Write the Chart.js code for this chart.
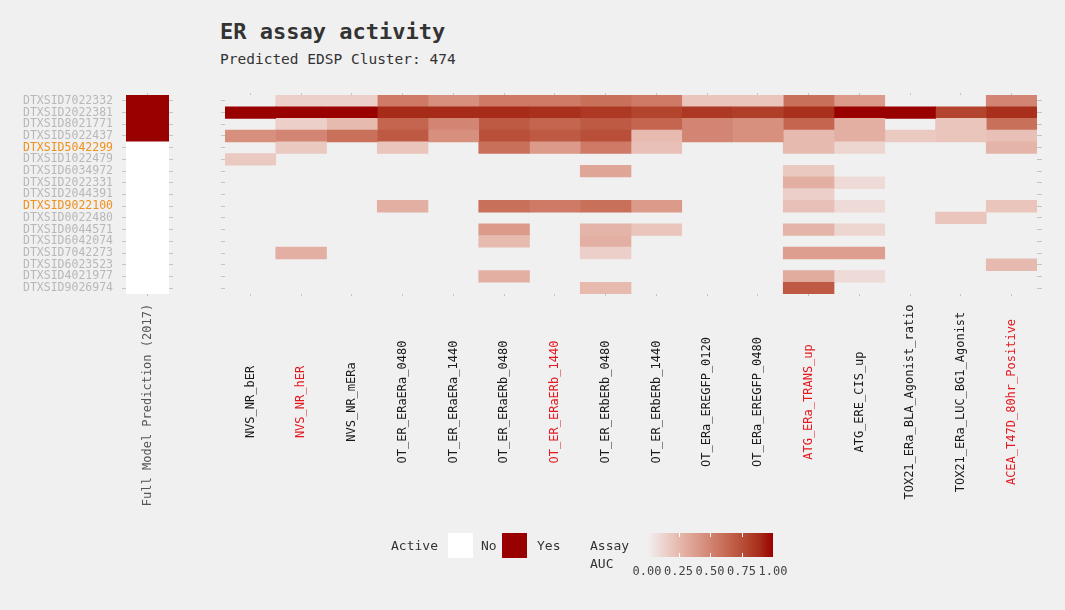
<!DOCTYPE html>
<html>
<head>
<meta charset="utf-8">
<script src="https://cdn.jsdelivr.net/npm/chart.js@4.4.1/dist/chart.umd.min.js"></script>
<style>
  body { margin: 0; background: #f0f0f0; width: 1065px; height: 610px; overflow: hidden; position: relative;
         font-family: 'DejaVu Sans Mono', 'Liberation Mono', monospace; color: #333; }
  .box { position: absolute; }
  #title { position: absolute; left: 220px; top: 20px; font-size: 22px; font-weight: bold; line-height: 24px; color: #333; }
  #subtitle { position: absolute; left: 220px; top: 51px; font-size: 14.5px; line-height: 16px; color: #333; }
  .leg { position: absolute; font-size: 13px; line-height: 16px; color: #333; }
  .swatch { position: absolute; width: 25px; height: 25px; top: 533px; }
  .cbtick { position: absolute; width: 1px; height: 4px; background: #fff; }
  .cblab { position: absolute; top: 564px; font-size: 12px; line-height: 14px; color: #444; width: 40px; text-align: center; }
</style>
</head>
<body>
<div id="title">ER assay activity</div>
<div id="subtitle">Predicted EDSP Cluster: 474</div>

<div class="box" style="left:0;top:0;width:200px;height:610px"><canvas id="predChart"></canvas></div>
<div class="box" style="left:200px;top:0;width:865px;height:610px"><canvas id="assayChart"></canvas></div>

<div class="leg" style="left:391px;top:538px">Active</div>
<div class="swatch" style="left:448px;background:#ffffff"></div>
<div class="leg" style="left:481px;top:538px">No</div>
<div class="swatch" style="left:502px;background:#990000"></div>
<div class="leg" style="left:537px;top:538px">Yes</div>
<div class="leg" style="left:590px;top:538px">Assay</div>
<div class="leg" style="left:590px;top:556px">AUC</div>
<div id="colorbar" class="box" style="left:647px;top:533px;width:126px;height:24px"></div>
<div id="cbextra"></div>

<script>
'use strict';

const chemicals = ['DTXSID7022332', 'DTXSID2022381', 'DTXSID8021771', 'DTXSID5022437', 'DTXSID5042299',
  'DTXSID1022479', 'DTXSID6034972', 'DTXSID2022331', 'DTXSID2044391', 'DTXSID9022100', 'DTXSID0022480',
  'DTXSID0044571', 'DTXSID6042074', 'DTXSID7042273', 'DTXSID6023523', 'DTXSID4021977', 'DTXSID9026974'];
const highlighted = ['DTXSID5042299', 'DTXSID9022100'];
const predicted = ['Yes', 'Yes', 'Yes', 'Yes', 'No', 'No', 'No', 'No', 'No', 'No', 'No', 'No', 'No', 'No', 'No', 'No', 'No'];

const assays = ['NVS_NR_bER', 'NVS_NR_hER', 'NVS_NR_mERa', 'OT_ER_ERaERa_0480', 'OT_ER_ERaERa_1440',
  'OT_ER_ERaERb_0480', 'OT_ER_ERaERb_1440', 'OT_ER_ERbERb_0480', 'OT_ER_ERbERb_1440', 'OT_ERa_EREGFP_0120',
  'OT_ERa_EREGFP_0480', 'ATG_ERa_TRANS_up', 'ATG_ERE_CIS_up', 'TOX21_ERa_BLA_Agonist_ratio',
  'TOX21_ERa_LUC_BG1_Agonist', 'ACEA_T47D_80hr_Positive'];
const redAssays = ['NVS_NR_hER', 'OT_ER_ERaERb_1440', 'ATG_ERa_TRANS_up', 'ACEA_T47D_80hr_Positive'];

// assay AUC, one row per chemical (same order as chemicals), null = no hit
const auc = [
  [null, 0.15, 0.15, 0.55, 0.45, 0.55, 0.55, 0.6, 0.55, 0.2, 0.2, 0.6, 0.4, null, null, 0.5],
  [1.0, 1.0, 1.0, 0.9, 0.9, 0.9, 0.88, 0.85, 0.8, 0.85, 0.82, 0.88, 1.0, 1.0, 0.8, 0.88],
  [null, 0.15, 0.25, 0.65, 0.5, 0.7, 0.65, 0.7, 0.65, 0.5, 0.45, 0.65, 0.3, null, 0.2, 0.6],
  [0.45, 0.5, 0.6, 0.7, 0.45, 0.75, 0.7, 0.75, 0.25, 0.5, 0.45, 0.25, 0.3, 0.18, 0.2, 0.22],
  [null, 0.18, null, 0.2, null, 0.6, 0.4, 0.55, 0.22, null, null, 0.25, 0.12, null, null, 0.28],
  [0.18, null, null, null, null, null, null, null, null, null, null, null, null, null, null, null],
  [null, null, null, null, null, null, null, 0.35, null, null, null, 0.18, null, null, null, null],
  [null, null, null, null, null, null, null, null, null, null, null, 0.3, 0.1, null, null, null],
  [null, null, null, null, null, null, null, null, null, null, null, 0.15, null, null, null, null],
  [null, null, null, 0.3, null, 0.6, 0.55, 0.6, 0.4, null, null, 0.22, 0.1, null, null, 0.2],
  [null, null, null, null, null, null, null, null, null, null, null, null, null, null, 0.2, null],
  [null, null, null, null, null, 0.4, null, 0.28, 0.2, null, null, 0.28, 0.12, null, null, null],
  [null, null, null, null, null, 0.25, null, 0.3, null, null, null, null, null, null, null, null],
  [null, 0.3, null, null, null, null, null, 0.15, null, null, null, 0.38, 0.38, null, null, null],
  [null, null, null, null, null, null, null, null, null, null, null, null, null, null, null, 0.25],
  [null, null, null, null, null, 0.3, null, null, null, null, null, 0.32, 0.1, null, null, null],
  [null, null, null, null, null, null, null, 0.25, null, null, null, 0.7, null, null, null, null]
];

const colorbarTicks = [0, 0.25, 0.5, 0.75, 1];

const lowColor = '#f2f0f0';
const highColor = '#990000';
const tickGray = '#c4c4c4';

// gradient in Lab space, like ggplot's scale_fill_gradient
function toLin(c) { c /= 255; return c <= 0.04045 ? c / 12.92 : Math.pow((c + 0.055) / 1.055, 2.4); }
function toSrgb(c) {
  const v = c <= 0.0031308 ? 12.92 * c : 1.055 * Math.pow(c, 1 / 2.4) - 0.055;
  return Math.round(Math.max(0, Math.min(1, v)) * 255);
}
function hexToLab(hex) {
  const r = toLin(parseInt(hex.slice(1, 3), 16));
  const g = toLin(parseInt(hex.slice(3, 5), 16));
  const b = toLin(parseInt(hex.slice(5, 7), 16));
  const f = t => t > 0.008856 ? Math.cbrt(t) : 7.787 * t + 16 / 116;
  const fx = f((0.4124 * r + 0.3576 * g + 0.1805 * b) / 0.95047);
  const fy = f(0.2126 * r + 0.7152 * g + 0.0722 * b);
  const fz = f((0.0193 * r + 0.1192 * g + 0.9505 * b) / 1.08883);
  return [116 * fy - 16, 500 * (fx - fy), 200 * (fy - fz)];
}
function labToRgb(L, a, bb) {
  const fy = (L + 16) / 116, fx = fy + a / 500, fz = fy - bb / 200;
  const inv = t => t * t * t > 0.008856 ? t * t * t : (t - 16 / 116) / 7.787;
  const X = inv(fx) * 0.95047, Y = inv(fy), Z = inv(fz) * 1.08883;
  const r = 3.2406 * X - 1.5372 * Y - 0.4986 * Z;
  const g = -0.9689 * X + 1.8758 * Y + 0.0415 * Z;
  const b = 0.0557 * X - 0.2040 * Y + 1.0570 * Z;
  return 'rgb(' + toSrgb(r) + ',' + toSrgb(g) + ',' + toSrgb(b) + ')';
}
const labLow = hexToLab(lowColor);
const labHigh = hexToLab(highColor);
function aucColor(v) {
  return labToRgb(labLow[0] + (labHigh[0] - labLow[0]) * v,
                  labLow[1] + (labHigh[1] - labLow[1]) * v,
                  labLow[2] + (labHigh[2] - labLow[2]) * v);
}

// rotated axis labels, centred on a fixed line like the original
function verticalLabels(labels, colors, centerY, size) {
  return {
    id: 'verticalLabels',
    afterDraw(chart) {
      const ctx = chart.ctx;
      const xs = chart.scales.x;
      ctx.save();
      ctx.font = size + 'px "DejaVu Sans Mono", monospace';
      ctx.textAlign = 'center';
      ctx.textBaseline = 'middle';
      labels.forEach((lab, i) => {
        ctx.save();
        ctx.translate(xs.getPixelForValue(i + 0.5), centerY);
        ctx.rotate(-Math.PI / 2);
        ctx.fillStyle = colors[i];
        ctx.fillText(lab, 0, 0);
        ctx.restore();
      });
      ctx.restore();
    }
  };
}

function tickAxis(position, type, size) {
  const axis = {
    type: type,
    position: position,
    grid: { drawOnChartArea: false, tickLength: size, color: tickGray, offset: false },
    ticks: { display: false },
    border: { display: false }
  };
  if (position === 'left' || position === 'right') {
    axis.labels = chemicals;
    axis.offset = true;
    axis.afterFit = s => { s.width = size; };
  } else {
    axis.afterFit = s => { s.height = 3; };
  }
  return axis;
}

// left panel: full model prediction
const predAxisX = tickAxis('bottom', 'linear', 2);
predAxisX.min = 0; predAxisX.max = 1;
predAxisX.afterBuildTicks = s => { s.ticks = [{ value: 0.5 }]; };
const predAxisX2 = tickAxis('top', 'linear', 2);
predAxisX2.min = 0; predAxisX2.max = 1;
predAxisX2.afterBuildTicks = s => { s.ticks = [{ value: 0.5 }]; };
const predAxisY = tickAxis('left', 'category', 4);
predAxisY.ticks = {
  display: true, autoSkip: false, padding: 9,
  font: { family: 'DejaVu Sans Mono', size: 11.5 },
  color: c => highlighted.includes(chemicals[c.index]) ? '#f0901c' : '#b8b8b8'
};
predAxisY.afterFit = s => { s.width = 126; };
const predAxisY2 = tickAxis('right', 'category', 4);

new Chart(document.getElementById('predChart'), {
  type: 'bar',
  data: {
    labels: chemicals,
    datasets: [{
      data: predicted.map(() => [0, 1]),
      backgroundColor: predicted.map(p => p === 'Yes' ? highColor : '#ffffff'),
      borderWidth: 0,
      barPercentage: 1,
      categoryPercentage: 1
    }]
  },
  options: {
    indexAxis: 'y',
    animation: false,
    responsive: true,
    maintainAspectRatio: false,
    layout: { padding: { left: 0, right: 27, top: 92, bottom: 313 } },
    plugins: { legend: { display: false }, tooltip: { enabled: false } },
    scales: { x: predAxisX, x2: predAxisX2, y: predAxisY, y2: predAxisY2 }
  },
  plugins: [verticalLabels(['Full Model Prediction (2017)'], ['#555555'], 405, 12)]
});

// main panel: assay AUC tiles
const mainAxisX = tickAxis('bottom', 'linear', 2);
mainAxisX.min = 0; mainAxisX.max = assays.length;
mainAxisX.afterBuildTicks = s => { s.ticks = assays.map((a, i) => ({ value: i + 0.5 })); };
const mainAxisX2 = tickAxis('top', 'linear', 2);
mainAxisX2.min = 0; mainAxisX2.max = assays.length;
mainAxisX2.afterBuildTicks = s => { s.ticks = assays.map((a, i) => ({ value: i + 0.5 })); };

const tileSets = assays.map((assay, c) => ({
  label: assay,
  data: chemicals.map((chem, r) => auc[r][c] === null ? null : [c, c + 1]),
  backgroundColor: chemicals.map((chem, r) => auc[r][c] === null ? 'rgba(0,0,0,0)' : aucColor(auc[r][c])),
  borderWidth: 0,
  grouped: false,
  barPercentage: 1,
  categoryPercentage: 1
}));

new Chart(document.getElementById('assayChart'), {
  type: 'bar',
  data: { labels: chemicals, datasets: tileSets },
  options: {
    indexAxis: 'y',
    animation: false,
    responsive: true,
    maintainAspectRatio: false,
    layout: { padding: { left: 21, right: 23, top: 92, bottom: 313 } },
    plugins: { legend: { display: false }, tooltip: { enabled: false } },
    scales: {
      x: mainAxisX,
      x2: mainAxisX2,
      y: tickAxis('left', 'category', 4),
      y2: tickAxis('right', 'category', 5)
    }
  },
  plugins: [verticalLabels(assays, assays.map(a => redAssays.includes(a) ? '#e3191f' : '#1a1a1a'), 402, 12)]
});

// colour bar legend
const stops = [];
for (let i = 0; i <= 10; i++) stops.push(aucColor(i / 10) + ' ' + (i * 10) + '%');
document.getElementById('colorbar').style.background = 'linear-gradient(to right, ' + stops.join(', ') + ')';
let extra = '';
colorbarTicks.forEach(t => {
  const x = 647 + t * 126;
  if (t > 0 && t < 1) {
    extra += '<div class="cbtick" style="left:' + x + 'px;top:533px"></div>';
    extra += '<div class="cbtick" style="left:' + x + 'px;top:553px"></div>';
  }
  extra += '<div class="cblab" style="left:' + (x - 20) + 'px">' + t.toFixed(2) + '</div>';
});
document.getElementById('cbextra').innerHTML = extra;
</script>
</body>
</html>
